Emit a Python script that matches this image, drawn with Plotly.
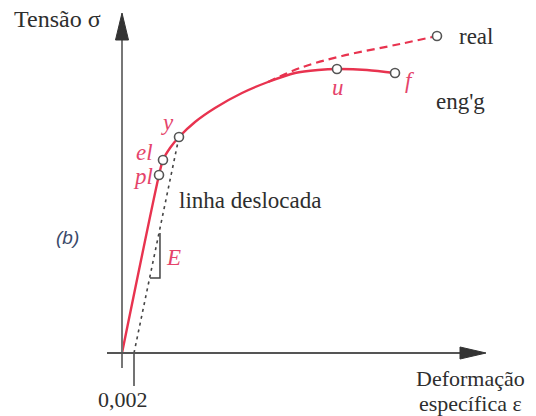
import plotly.graph_objects as go

# ---- data (strain, stress in MPa) ----
eng_strain = [0.0, 0.00617, 0.00683, 0.0080, 0.0095, 0.01217, 0.0155, 0.0200, 0.02433,
              0.02883, 0.03267, 0.03583, 0.04083, 0.0455]
eng_stress = [0.0, 445.0, 482.5, 512.5, 540.0, 577.5, 612.5, 650.0, 677.5,
              700.0, 707.5, 710.0, 707.5, 700.0]

real_strain = [0.02433, 0.02967, 0.03667, 0.04633, 0.0525]
real_stress = [677.5, 712.5, 742.5, 772.5, 792.5]

offset_strain = [0.002, 0.0095]
offset_stress = [0.0, 540.0]

slope_strain = [0.00467, 0.00633, 0.00633]
slope_stress = [187.5, 187.5, 300.0]

pt_labels = ["pl", "el", "y", "u", "f"]
pt_strain = [0.00617, 0.00683, 0.0095, 0.03583, 0.0455]
pt_stress = [445.0, 482.5, 540.0, 710.0, 700.0]

real_end_strain = [0.0525]
real_end_stress = [792.5]

tick_value = 0.002
tick_label = "0,002"

# ---- pixel <-> data helpers for layout decorations ----
W, H = 536, 416
X0, Y0 = 122, 353          # pixel of origin
SX, SY = 6000.0, 1 / 2.5   # px per unit strain, px per MPa


def dx(px):
    return (px - X0) / SX


def dy(py):
    return (Y0 - py) / SY


RED = "#e8334f"
RED_TXT = "#e5446b"
DARK = "#2e2e2e"
FONT = "Liberation Serif"

fig = go.Figure()

# offset (dashed) line
fig.add_trace(go.Scatter(x=offset_strain, y=offset_stress, mode="lines",
                         line=dict(color="#444", width=1.6, dash="3px,4px"),
                         hoverinfo="skip"))
# slope triangle
fig.add_trace(go.Scatter(x=slope_strain, y=slope_stress, mode="lines",
                         line=dict(color="#444", width=1.5), hoverinfo="skip"))
# real curve
fig.add_trace(go.Scatter(x=real_strain, y=real_stress, mode="lines",
                         line=dict(color=RED, width=2.2, dash="8px,5px", shape="spline"),
                         hoverinfo="skip"))
# engineering curve
fig.add_trace(go.Scatter(x=eng_strain, y=eng_stress, mode="lines",
                         line=dict(color=RED, width=2.4, shape="spline", smoothing=0.8),
                         hoverinfo="skip"))
# points
fig.add_trace(go.Scatter(x=pt_strain + real_end_strain, y=pt_stress + real_end_stress,
                         mode="markers",
                         marker=dict(symbol="circle", size=9, color="white",
                                     line=dict(color="#555", width=1.6)),
                         hoverinfo="skip"))

shapes = []
# vertical axis
shapes.append(dict(type="line", xref="x", yref="y", x0=dx(122), x1=dx(122), y0=dy(368), y1=dy(38),
                   line=dict(color="#777", width=2)))
shapes.append(dict(type="path", xref="x", yref="y",
                   path=f"M {dx(122)} {dy(13)} L {dx(115.5)} {dy(40)} L {dx(128.5)} {dy(40)} Z",
                   fillcolor="#333", line=dict(color="#333", width=1)))
# horizontal axis
shapes.append(dict(type="line", xref="x", yref="y", x0=dx(107), x1=dx(462), y0=dy(353), y1=dy(353),
                   line=dict(color="#555", width=2)))
shapes.append(dict(type="path", xref="x", yref="y",
                   path=f"M {dx(486)} {dy(353)} L {dx(460)} {dy(347)} L {dx(460)} {dy(359)} Z",
                   fillcolor="#333", line=dict(color="#333", width=1)))
# tick at 0.002
shapes.append(dict(type="line", xref="x", yref="y", x0=tick_value, x1=tick_value, y0=dy(354), y1=dy(386),
                   line=dict(color="#444", width=1.5)))

ann = []


def txt(text, px, py, size=23, color=DARK, italic=False, xanchor="center", family=FONT):
    ann.append(dict(text=text, x=dx(px), y=dy(py), xref="x", yref="y", showarrow=False,
                    xanchor=xanchor, yanchor="middle",
                    font=dict(family=family, size=size, color=color,
                              style="italic" if italic else "normal")))


txt("Tensão σ", 57, 19, size=24)
txt("(b)", 67, 237, size=19, color="#3a4a6a", italic=True, family="Liberation Sans")
txt("linha deslocada", 177, 200, xanchor="left")
txt("real", 457, 36, xanchor="left")
txt("eng'g", 434, 101, xanchor="left")
txt("Deformação", 414, 378, size=22, xanchor="left")
txt("específica ε", 417, 403, size=22, xanchor="left")
txt(tick_label, 123, 399, size=22)
# red point labels
lab_pos = {"pl": (143, 176), "el": (144, 152), "y": (167, 122), "u": (338, 87), "f": (410, 80)}
for lab in pt_labels:
    px, py = lab_pos[lab]
    txt(lab, px, py, size=23, color=RED_TXT, italic=True)
txt("E", 173, 257, size=23, color=RED_TXT, italic=True)

fig.update_layout(
    width=W, height=H, margin=dict(l=0, r=0, t=0, b=0),
    paper_bgcolor="white", plot_bgcolor="white", showlegend=False,
    xaxis=dict(visible=False, range=[dx(0), dx(W)], fixedrange=True),
    yaxis=dict(visible=False, range=[dy(H), dy(0)], fixedrange=True),
    shapes=shapes, annotations=ann,
)

fig.write_html("out.html")
